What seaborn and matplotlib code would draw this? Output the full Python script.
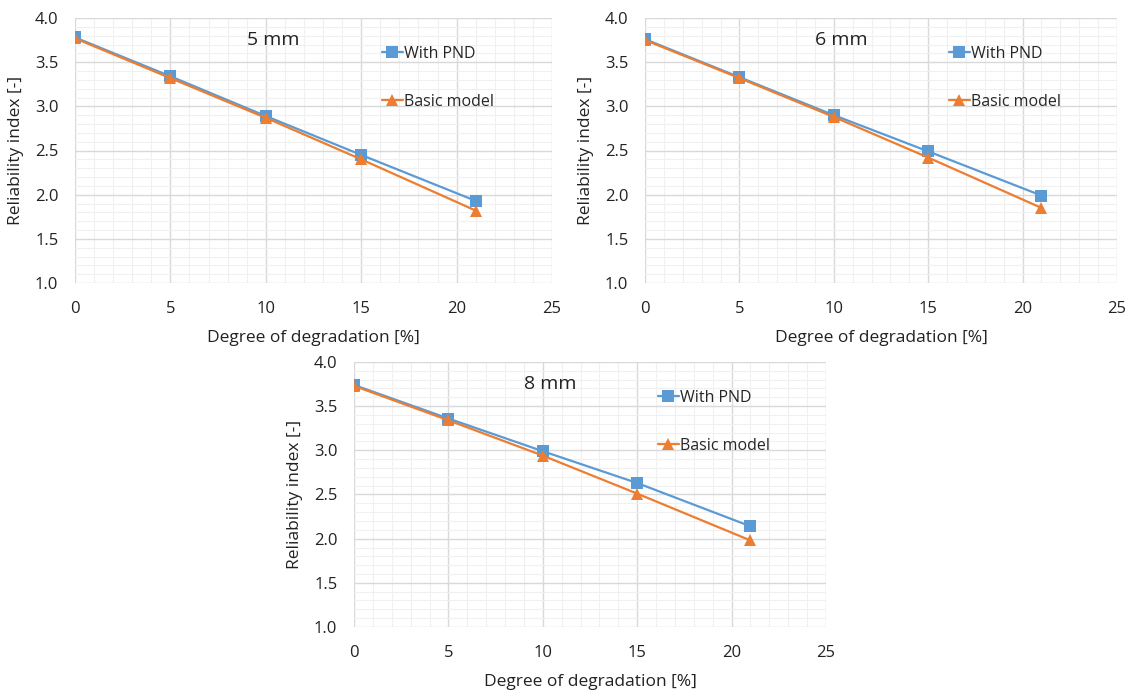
import numpy as np
import matplotlib
matplotlib.use("Agg")
import matplotlib.pyplot as plt
import seaborn as sns
from matplotlib.ticker import MultipleLocator

degradation = [0, 5, 10, 15, 21]

pnd_5mm = [3.78, 3.34, 2.89, 2.45, 1.93]
basic_5mm = [3.77, 3.32, 2.87, 2.40, 1.82]
pnd_6mm = [3.76, 3.33, 2.90, 2.49, 1.99]
basic_6mm = [3.75, 3.32, 2.88, 2.42, 1.85]
pnd_8mm = [3.74, 3.36, 2.99, 2.63, 2.14]
basic_8mm = [3.73, 3.34, 2.94, 2.51, 1.98]

panel_titles = ["5 mm", "6 mm", "8 mm"]
series_labels = ["With PND", "Basic model"]

BLUE = "#5B9BD5"
ORANGE = "#ED7D31"

sns.set_style("white")
plt.rcParams['font.family'] = ['Open Sans', 'DejaVu Sans']

fig = plt.figure(figsize=(11.34, 6.95), dpi=100)

# axes boxes in figure fractions (left, bottom, width, height)
boxes = [
    (75 / 1134, 1 - 283 / 695, 477 / 1134, 265 / 695),
    (645 / 1134, 1 - 283 / 695, 472 / 1134, 265 / 695),
    (354 / 1134, 1 - 627 / 695, 472 / 1134, 265 / 695),
]
data = [(pnd_5mm, basic_5mm), (pnd_6mm, basic_6mm), (pnd_8mm, basic_8mm)]

for box, (pnd, basic), title in zip(boxes, data, panel_titles):
    ax = fig.add_axes(box)
    sns.lineplot(x=degradation, y=pnd, ax=ax, color=BLUE, marker="s",
                 markersize=8, markeredgewidth=0, linewidth=1.6,
                 label=series_labels[0], zorder=3)
    sns.lineplot(x=degradation, y=basic, ax=ax, color=ORANGE, marker="^",
                 markersize=8, markeredgewidth=0, linewidth=1.6,
                 label=series_labels[1], zorder=4)

    ax.set_xlim(0, 25)
    ax.set_ylim(1.0, 4.0)
    ax.xaxis.set_major_locator(MultipleLocator(5))
    ax.xaxis.set_minor_locator(MultipleLocator(1))
    ax.yaxis.set_major_locator(MultipleLocator(0.5))
    ax.yaxis.set_minor_locator(MultipleLocator(0.1))
    ax.set_yticks(np.arange(1.0, 4.01, 0.5))
    ax.set_yticklabels([f"{v:.1f}" for v in np.arange(1.0, 4.01, 0.5)])
    ax.grid(which="major", color="#D9D9D9", linewidth=1.0)
    ax.grid(which="minor", color="#F0F0F0", linewidth=0.8)
    ax.set_axisbelow(True)
    for s in ax.spines.values():
        s.set_visible(False)
    ax.tick_params(which="minor", length=0)
    ax.tick_params(which="major", length=4, width=1.0, color="#D0D0D0",
                   labelsize=12, labelcolor="#222222")
    ax.tick_params(axis="x", pad=9)
    ax.tick_params(axis="y", pad=8)
    ax.set_xlabel("Degree of degradation [%]", fontsize=12.5, labelpad=9,
                  color="#222222")
    ax.set_ylabel("Reliability index [-]", fontsize=12.5, labelpad=8,
                  color="#222222")
    ax.text(10.4, 3.75, title, fontsize=14, ha="center", va="center",
            color="#222222")
    ax.legend(loc="upper left", bbox_to_anchor=(0.63, 0.92), frameon=False,
              fontsize=11.5, handlelength=1.3, handletextpad=0.1,
              labelspacing=2.0, borderaxespad=0)

fig.savefig("out.png", dpi=100)
